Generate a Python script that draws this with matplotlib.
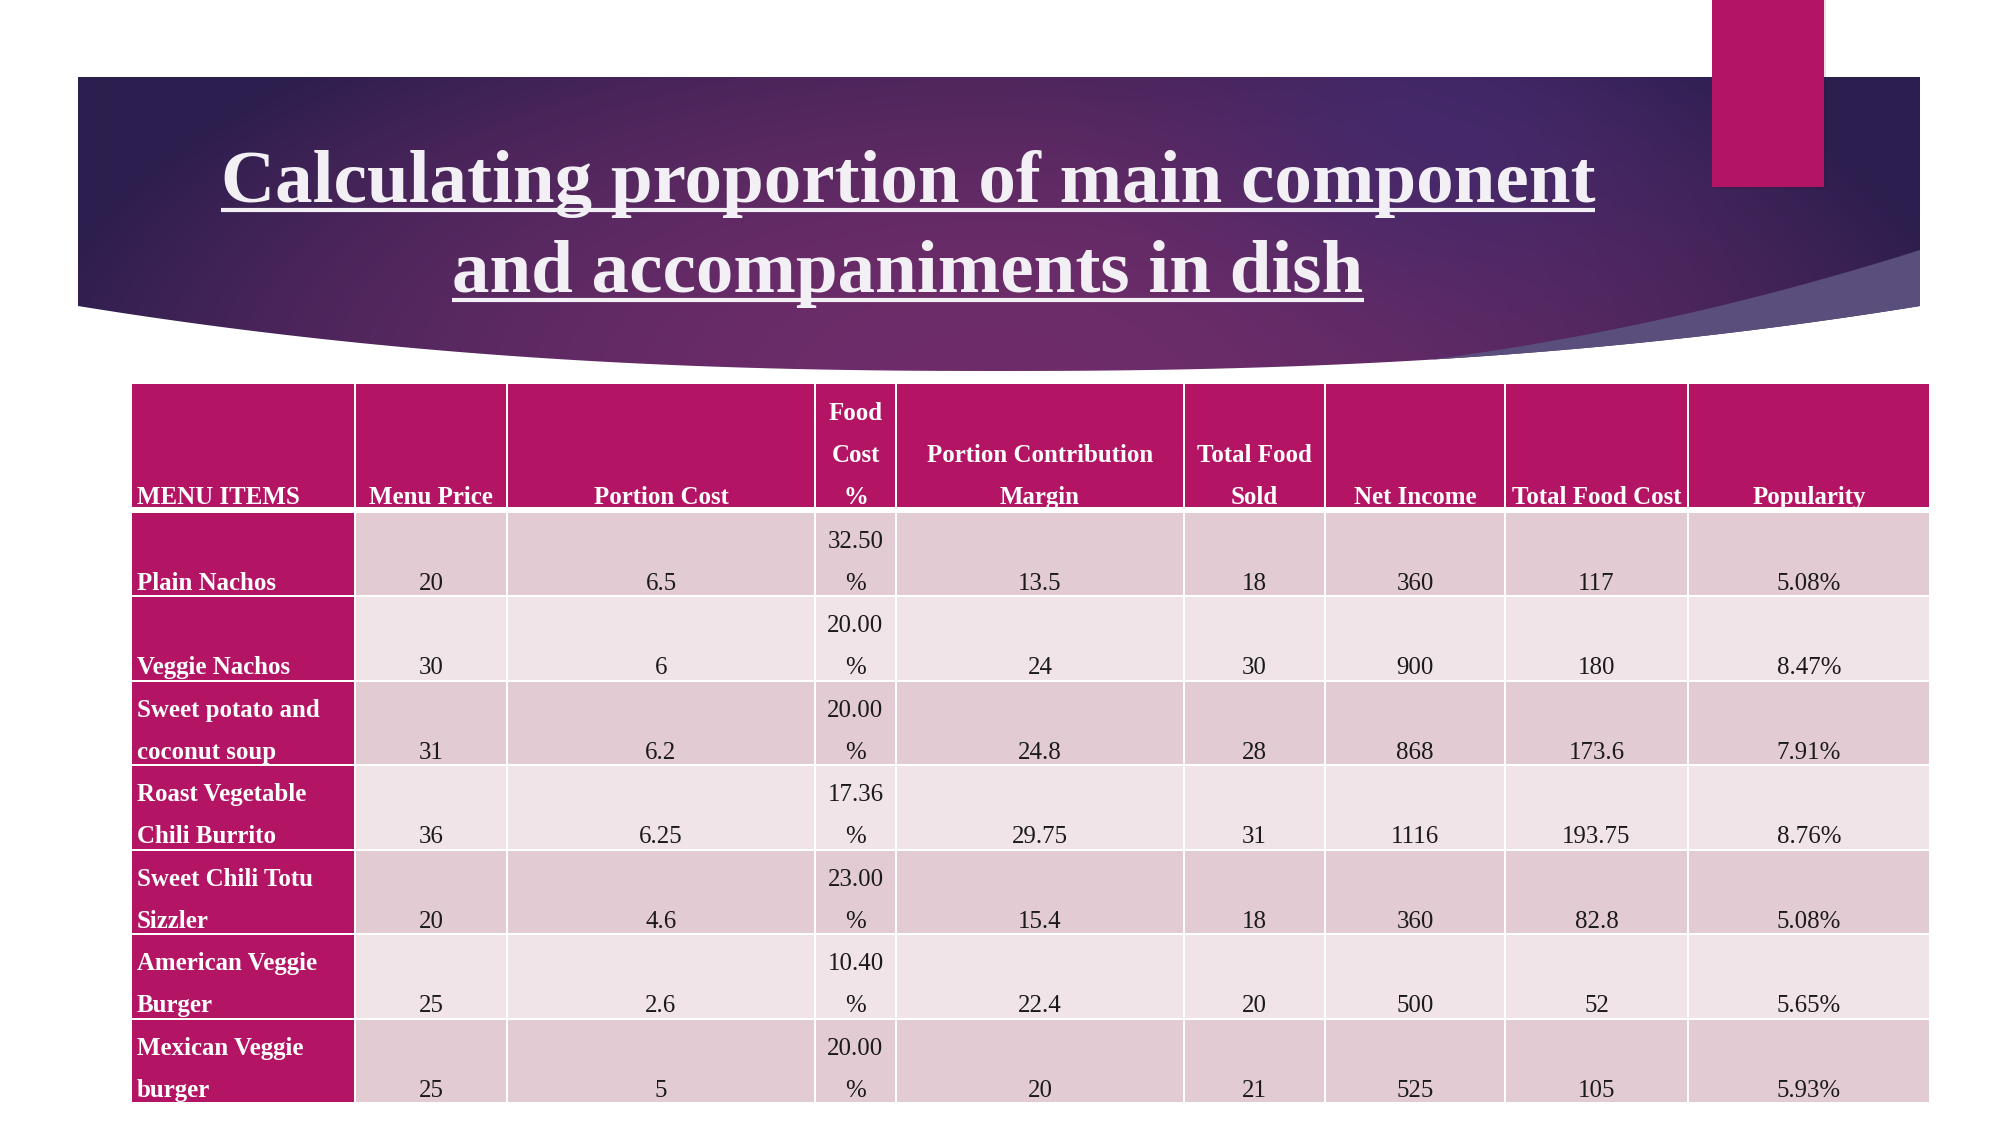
import numpy as np
import matplotlib
matplotlib.use("Agg")
import matplotlib.pyplot as plt
from matplotlib.patches import Rectangle, Polygon, PathPatch
from matplotlib.path import Path

# ---------------- data ----------------
title_lines = ["Calculating proportion of main component",
               "and accompaniments in dish"]
headers = ["MENU ITEMS", "Menu Price", "Portion Cost", "Food\nCost\n%",
           "Portion Contribution\nMargin", "Total Food\nSold", "Net Income",
           "Total Food Cost", "Popularity"]
menu_items = ["Plain Nachos", "Veggie Nachos", "Sweet potato and\ncoconut soup",
              "Roast Vegetable\nChili Burrito", "Sweet Chili Totu\nSizzler",
              "American Veggie\nBurger", "Mexican Veggie\nburger"]
menu_price = [20, 30, 31, 36, 20, 25, 25]
portion_cost = [6.5, 6, 6.2, 6.25, 4.6, 2.6, 5]
food_cost_pct = [32.50, 20.00, 20.00, 17.36, 23.00, 10.40, 20.00]
portion_cm = [13.5, 24, 24.8, 29.75, 15.4, 22.4, 20]
total_food_sold = [18, 30, 28, 31, 18, 20, 21]
net_income = [360, 900, 868, 1116, 360, 500, 525]
total_food_cost = [117, 180, 173.6, 193.75, 82.8, 52, 105]
popularity = [5.08, 8.47, 7.91, 8.76, 5.08, 5.65, 5.93]

# ---------------- figure ----------------
W, H = 2001, 1125
fig = plt.figure(figsize=(W / 100, H / 100), dpi=100)
ax = fig.add_axes([0, 0, 1, 1])
ax.set_xlim(0, W)
ax.set_ylim(H, 0)
ax.axis("off")

SERIF = ["Liberation Serif", "DejaVu Serif"]
MAGENTA = "#B31463"

# ---------------- banner ----------------
bx0, bx1, by0, by_edge, depth = 78, 1920, 77, 306, 65
bcx, bhw = 999, 921


def outer_y(x):
    u = np.abs((x - bcx) / bhw)
    return by_edge + depth * (1 - np.clip(u, 0, 1) ** 2.3)


def inner_y(x):
    t = bx1 - x
    return 250 + 0.3171 * t - 1.903e-4 * t ** 2


xs = np.linspace(bx0, bx1, 400)
verts = [(bx0, by0), (bx1, by0)] + [(x, outer_y(x)) for x in xs[::-1]]
banner_path = Path(verts + [verts[0]], closed=True)

# gradient image
gx = np.arange(bx0, bx1 + 1)
gy = np.arange(by0, 380)
GX, GY = np.meshgrid(gx, gy)
r = np.sqrt(((GX - 1000) / 980.0) ** 2 + ((GY - 380) / 440.0) ** 2)
w = np.clip(1 - r ** 2, 0, 1)[..., None]
center = np.array([110, 45, 106]) / 255.0
edge = np.array([44, 30, 78]) / 255.0
img = edge + (center - edge) * w
spot = np.exp(-(((GX - 1440) / 220.0) ** 2 + ((GY - 130) / 150.0) ** 2))[..., None]
spot_col = np.array([66, 42, 112]) / 255.0
img = img * (1 - 0.7 * spot) + spot_col * 0.7 * spot
im = ax.imshow(img, extent=(bx0, bx1 + 1, 380, by0), origin="upper",
               interpolation="bilinear", zorder=1, aspect="auto")
clip_patch = PathPatch(banner_path, facecolor="none", edgecolor="none")
ax.add_patch(clip_patch)
im.set_clip_path(clip_patch)

# lighter swoosh
sx = np.linspace(1380, bx1, 300)
mask = inner_y(sx) < outer_y(sx)
sx = sx[mask]
sw = [(x, inner_y(x)) for x in sx] + [(x, outer_y(x)) for x in sx[::-1]]
ax.add_patch(Polygon(sw, closed=True, facecolor="#5a4f7c", edgecolor="none", zorder=2))

# pink rectangle with soft shadow
ax.add_patch(Rectangle((1714, 0), 112, 189, facecolor="#1a1030", alpha=0.12,
                       edgecolor="none", zorder=3))
ax.add_patch(Rectangle((1712, 0), 112, 186.5, facecolor=MAGENTA, edgecolor="none", zorder=4))

# title
title_cx = 908
baselines = [202, 292]
fig.canvas.draw()
renderer = fig.canvas.get_renderer()
for line, yb in zip(title_lines, baselines):
    t = ax.text(title_cx, yb, line, ha="center", va="baseline", fontsize=54,
                fontweight="bold", family=SERIF, color="#F2F0F5", zorder=5)
    bb = t.get_window_extent(renderer)
    (x0d, _), (x1d, _) = ax.transData.inverted().transform([(bb.x0, 0), (bb.x1, 0)])
    ax.plot([x0d, x1d], [yb + 7.5, yb + 7.5], color="#F2F0F5", lw=3.0,
            solid_capstyle="butt", zorder=5)

# ---------------- table ----------------
col_edges = [131, 355, 507, 815, 896, 1184, 1325, 1505, 1688, 1930]
head_top, head_bot = 384, 507
row_top0, row_pitch, row_h = 512.7, 84.55, 82.3
line_pitch = 42.0
head_off, data_off = 3.0, 5.3
FS = 17.9
odd_col, even_col = "#E2CBD2", "#F0E4E8"

columns = [
    menu_items,
    [f"{v:g}" for v in menu_price],
    [f"{v:g}" for v in portion_cost],
    [f"{v:.2f}\n%" for v in food_cost_pct],
    [f"{v:g}" for v in portion_cm],
    [f"{v:g}" for v in total_food_sold],
    [f"{v:g}" for v in net_income],
    [f"{v:g}" for v in total_food_cost],
    [f"{v:.2f}%" for v in popularity],
]


def put_lines(text, x, bottom, off, ha, color, weight):
    lines = text.split("\n")
    n = len(lines)
    for k, ln in enumerate(lines):
        yb = bottom - off - (n - 1 - k) * line_pitch
        ax.text(x, yb, ln, ha=ha, va="baseline", fontsize=FS, family=SERIF,
                color=color, fontweight=weight, zorder=7)


for j in range(len(headers)):
    xl, xr = col_edges[j] + 1, col_edges[j + 1] - 1
    ax.add_patch(Rectangle((xl, head_top), xr - xl, head_bot - head_top,
                           facecolor=MAGENTA, edgecolor="none", zorder=6))
    if j == 0:
        put_lines(headers[j], col_edges[0] + 6, head_bot, head_off, "left", "white", "bold")
    else:
        put_lines(headers[j], (col_edges[j] + col_edges[j + 1]) / 2, head_bot,
                  head_off, "center", "white", "bold")

for i in range(len(menu_items)):
    top = row_top0 + i * row_pitch
    bot = top + row_h
    for j in range(len(headers)):
        xl, xr = col_edges[j] + 1, col_edges[j + 1] - 1
        if j == 0:
            fc = MAGENTA
        else:
            fc = odd_col if i % 2 == 0 else even_col
        ax.add_patch(Rectangle((xl, top), xr - xl, bot - top, facecolor=fc,
                               edgecolor="none", zorder=6))
        txt = columns[j][i]
        if j == 0:
            put_lines(txt, col_edges[0] + 6, bot, data_off, "left", "white", "bold")
        else:
            put_lines(txt, (col_edges[j] + col_edges[j + 1]) / 2, bot, data_off,
                      "center", "#1a1a1a", "normal")

fig.savefig("out.png", dpi=100, facecolor="white")
